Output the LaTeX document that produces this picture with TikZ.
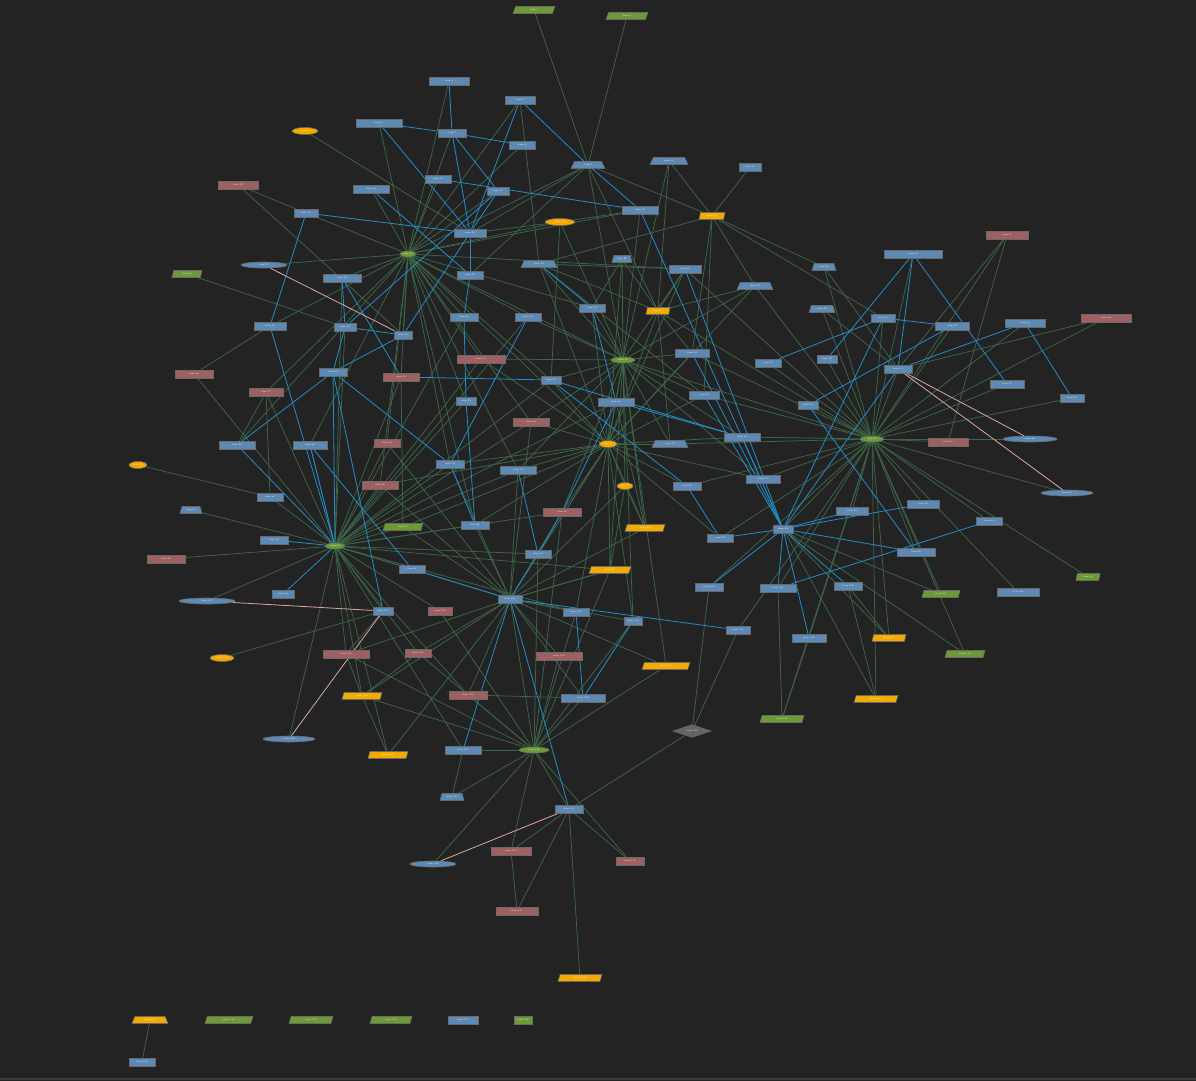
\documentclass[tikz,border=0pt]{standalone}
\usetikzlibrary{shapes.geometric}
\pgfdeclarelayer{bgl}
\pgfdeclarelayer{edges}
\pgfsetlayers{bgl,edges,main}
\definecolor{bgc}{RGB}{35,35,35}
\definecolor{cline}{RGB}{60,60,60}
\definecolor{cblue}{RGB}{92,138,180}
\definecolor{cred}{RGB}{158,96,96}
\definecolor{cgreen}{RGB}{108,154,52}
\definecolor{corange}{RGB}{245,170,0}
\definecolor{cgray}{RGB}{100,100,100}
\definecolor{cborder}{RGB}{105,105,105}
\definecolor{egreen}{RGB}{60,102,72}
\definecolor{eblue}{RGB}{36,140,200}
\definecolor{epink}{RGB}{222,165,165}
\tikzset{
  nbase/.style={draw=cborder,line width=0.6pt,inner sep=0pt,text=white,
    font=\fontsize{2.2}{2.4}\selectfont},
  bx/.style={nbase,rectangle,fill=cblue,minimum height=8pt},
  rx/.style={nbase,rectangle,fill=cred,minimum height=8pt},
  gr/.style={nbase,rectangle,fill=cgreen,minimum height=8pt},
  gp/.style={nbase,trapezium,trapezium stretches=true,trapezium left angle=68,trapezium right angle=112,fill=cgreen,minimum height=7pt},
  op/.style={nbase,trapezium,trapezium stretches=true,trapezium left angle=68,trapezium right angle=112,fill=corange,minimum height=7pt},
  bt/.style={nbase,trapezium,trapezium stretches=true,trapezium left angle=55,trapezium right angle=55,fill=cblue,minimum height=7pt},
  ot/.style={nbase,trapezium,trapezium stretches=true,trapezium left angle=55,trapezium right angle=55,fill=corange,minimum height=7pt},
  oe/.style={nbase,ellipse,fill=corange,minimum height=7pt},
  ge/.style={nbase,ellipse,fill=cgreen,minimum height=6pt},
  be/.style={nbase,ellipse,fill=cblue,minimum height=6pt},
  gd/.style={nbase,diamond,fill=cgray,minimum height=11pt},
  gedge/.style={draw=egreen,line width=0.75pt},
  bedge/.style={draw=eblue,line width=0.8pt},
  pedge/.style={draw=epink,line width=0.8pt},
}
\newcommand\nd[5]{\node[#2,minimum width=#5pt] (n#1) at (#3,#4) {item #1};}
\begin{document}
\begin{tikzpicture}[x=1pt,y=-1pt]
\useasboundingbox (0,0) rectangle (1196,1080);
\begin{pgfonlayer}{bgl}
\fill[bgc] (-3,-3) rectangle (1199,1083);
\draw[cline,line width=2pt] (-3,1078.5) -- (1199,1078.5);
\end{pgfonlayer}
\nd{1}{gp}{534}{10}{42}
\nd{2}{gp}{627}{16}{42}
\nd{3}{bx}{449}{81}{40}
\nd{4}{bx}{520}{100}{30}
\nd{5}{bx}{379}{123}{46}
\nd{6}{oe}{305}{131}{26}
\nd{7}{bx}{452}{133}{28}
\nd{8}{bx}{522}{145}{26}
\nd{9}{bt}{588}{165}{34}
\nd{10}{bt}{669}{161}{38}
\nd{11}{bx}{750}{167}{22}
\nd{12}{rx}{238}{185}{40}
\nd{13}{bx}{371}{189}{36}
\nd{14}{bx}{438}{179}{26}
\nd{15}{bx}{498}{191}{22}
\nd{16}{bx}{640}{210}{36}
\nd{17}{op}{712}{216}{26}
\nd{18}{oe}{560}{222}{30}
\nd{19}{bx}{306}{213}{24}
\nd{20}{bx}{470}{233}{32}
\nd{21}{ge}{408}{254}{16}
\nd{22}{be}{264}{265}{46}
\nd{23}{gp}{187}{274}{30}
\nd{24}{bx}{342}{278}{38}
\nd{25}{bx}{470}{275}{26}
\nd{26}{bt}{539}{264}{36}
\nd{27}{bt}{622}{259}{20}
\nd{28}{bx}{685}{269}{32}
\nd{29}{bt}{824}{267}{24}
\nd{30}{bx}{913}{254}{58}
\nd{31}{rx}{1007}{235}{42}
\nd{32}{bt}{755}{286}{36}
\nd{33}{bt}{822}{309}{26}
\nd{34}{bx}{592}{308}{26}
\nd{35}{op}{658}{311}{24}
\nd{36}{bx}{464}{317}{28}
\nd{37}{bx}{528}{317}{26}
\nd{38}{bx}{270}{326}{32}
\nd{39}{bx}{345}{327}{22}
\nd{40}{bx}{403}{335}{18}
\nd{41}{bx}{883}{318}{24}
\nd{42}{bx}{952}{326}{34}
\nd{43}{bx}{1025}{323}{40}
\nd{44}{rx}{1106}{318}{50}
\nd{45}{bx}{692}{353}{34}
\nd{46}{ge}{623}{360}{24}
\nd{47}{rx}{481}{359}{48}
\nd{48}{rx}{194}{374}{38}
\nd{49}{bx}{333}{372}{28}
\nd{50}{rx}{401}{377}{36}
\nd{51}{bx}{768}{363}{26}
\nd{52}{bx}{827}{359}{20}
\nd{53}{bx}{898}{369}{28}
\nd{54}{bx}{551}{380}{20}
\nd{55}{bx}{1007}{384}{34}
\nd{56}{bx}{1072}{398}{24}
\nd{57}{rx}{266}{392}{34}
\nd{58}{bx}{704}{395}{30}
\nd{59}{bx}{466}{401}{20}
\nd{60}{bx}{616}{402}{36}
\nd{61}{bx}{808}{405}{20}
\nd{62}{rx}{531}{422}{36}
\nd{63}{bx}{742}{437}{36}
\nd{64}{ge}{872}{439}{24}
\nd{65}{rx}{948}{442}{40}
\nd{66}{be}{1030}{439}{54}
\nd{67}{bx}{237}{445}{36}
\nd{68}{bx}{310}{445}{34}
\nd{69}{rx}{387}{443}{26}
\nd{70}{oe}{608}{444}{18}
\nd{71}{bt}{670}{444}{36}
\nd{72}{bx}{450}{464}{28}
\nd{73}{bx}{518}{470}{36}
\nd{74}{oe}{138}{465}{18}
\nd{75}{bx}{763}{479}{34}
\nd{76}{rx}{380}{485}{36}
\nd{77}{oe}{625}{486}{16}
\nd{78}{bx}{687}{486}{28}
\nd{79}{be}{1067}{493}{52}
\nd{80}{bx}{270}{497}{26}
\nd{81}{bt}{191}{510}{22}
\nd{82}{bx}{923}{504}{32}
\nd{83}{bx}{852}{511}{32}
\nd{84}{bx}{989}{521}{26}
\nd{85}{gp}{403}{527}{40}
\nd{86}{bx}{475}{525}{28}
\nd{87}{rx}{562}{512}{38}
\nd{88}{op}{645}{528}{40}
\nd{89}{bx}{783}{529}{20}
\nd{90}{bx}{274}{540}{28}
\nd{91}{ge}{335}{546}{20}
\nd{92}{bx}{720}{538}{26}
\nd{93}{bx}{538}{554}{26}
\nd{94}{rx}{166}{559}{38}
\nd{95}{bx}{916}{552}{38}
\nd{96}{bx}{412}{569}{26}
\nd{97}{op}{610}{570}{42}
\nd{98}{gp}{1088}{577}{24}
\nd{99}{bx}{283}{594}{22}
\nd{100}{bx}{709}{587}{28}
\nd{101}{bx}{778}{588}{36}
\nd{102}{bx}{848}{586}{28}
\nd{103}{gp}{941}{594}{38}
\nd{104}{bx}{1018}{592}{42}
\nd{105}{be}{207}{601}{56}
\nd{106}{bx}{510}{599}{24}
\nd{107}{bx}{383}{611}{20}
\nd{108}{rx}{440}{611}{24}
\nd{109}{bx}{576}{612}{26}
\nd{110}{bx}{633}{621}{18}
\nd{111}{bx}{738}{630}{24}
\nd{112}{oe}{222}{658}{24}
\nd{113}{rx}{346}{654}{46}
\nd{114}{rx}{418}{653}{26}
\nd{115}{rx}{559}{656}{46}
\nd{116}{bx}{809}{638}{34}
\nd{117}{op}{889}{638}{34}
\nd{118}{op}{666}{666}{48}
\nd{119}{gp}{965}{654}{40}
\nd{120}{op}{362}{696}{40}
\nd{121}{rx}{468}{695}{38}
\nd{122}{bx}{583}{698}{44}
\nd{123}{op}{876}{699}{44}
\nd{124}{gp}{782}{719}{44}
\nd{125}{gd}{692}{731}{38}
\nd{126}{be}{289}{739}{52}
\nd{127}{op}{388}{755}{40}
\nd{128}{bx}{463}{750}{36}
\nd{129}{ge}{534}{750}{30}
\nd{130}{bt}{452}{797}{24}
\nd{131}{bx}{569}{809}{28}
\nd{132}{be}{433}{864}{46}
\nd{133}{rx}{511}{851}{40}
\nd{134}{rx}{630}{861}{28}
\nd{135}{rx}{517}{911}{42}
\nd{136}{op}{580}{978}{44}
\nd{137}{ot}{150}{1020}{36}
\nd{138}{gp}{229}{1020}{48}
\nd{139}{gp}{311}{1020}{44}
\nd{140}{gp}{391}{1020}{42}
\nd{141}{bx}{463}{1020}{30}
\nd{142}{gr}{523}{1020}{18}
\nd{143}{bx}{142}{1062}{26}
\begin{pgfonlayer}{edges}
\foreach \a/\b in {1/9,2/9,3/21,4/21,4/26,5/21,7/21,13/21,14/21,15/21,12/19,12/40,6/20,9/17,9/35,9/21,9/20,9/25,9/46,10/46,10/17,10/35,11/17,17/26,17/29,17/32,17/41,17/45,17/58,18/54,18/20,18/21,18/16,19/21,22/21,23/39,24/21,26/46,26/35,26/58,27/46,27/34,27/35,28/35,28/26,29/64,29/53,30/64,31/64,31/53,31/65,32/64,32/46,32/35,33/64,33/53,34/46,35/45,35/70,36/21,37/21,37/46,38/21,38/48,40/21,41/64,42/64,43/64,44/64,44/53,45/46,45/64,47/21,47/46,47/70,48/91,50/21,51/64,52/64,53/64,55/64,56/64,57/91,57/80,57/67,58/64,58/46,60/46,60/70,61/64,62/70,62/91,62/21,63/64,63/46,65/64,66/64,68/91,69/91,69/21,70/46,70/54,70/73,70/72,70/86,70/87,70/76,70/85,70/71,70/32,70/26,70/77,71/46,71/35,72/91,72/21,73/91,73/21,74/80,75/64,75/46,76/91,76/21,77/97,77/88,77/106,78/64,78/70,79/64,80/91,81/91,82/64,83/64,84/64,85/91,85/50,85/106,86/91,86/106,88/106,88/46,89/64,93/91,93/70,94/91,95/64,96/91,97/129,97/106,98/64,100/125,101/124,102/117,102/123,103/89,103/64,104/64,105/91,106/91,106/129,107/91,108/129,108/91,109/106,111/125,112/107,113/91,113/107,113/120,114/106,115/106,115/129,116/124,116/64,117/89,118/106,118/129,118/46,119/89,119/64,120/91,120/127,120/114,121/129,121/122,121/106,122/129,123/89,125/131,126/91,127/106,128/129,128/130,129/130,129/131,129/132,129/133,129/134,131/133,131/134,131/135,131/136,133/135,137/143,69/106,59/91,47/91,87/106,67/21,24/91,39/91,50/91,92/64,60/88,54/46,62/106,73/106,21/8,21/16,21/34,21/54,21/59,21/86,21/68,21/57,21/46,21/70,21/28,91/54,91/36,91/37,91/60,91/87,91/97,91/109,91/114,91/121,91/127,91/128,70/60,70/45,70/58,70/63,70/75,70/88,70/92,70/97,70/109,70/110,70/106,70/28,70/27,70/34,64/35,64/46,64/71,64/100,64/101,64/111,64/117,64/123,64/124,64/28,46/16,46/18,46/28,46/62,46/73,46/77,46/87,46/97,46/110,106/72,106/76,106/97,106/110,106/113,106/120,106/122,129/109,129/110,129/113,129/114,129/120,129/93,129/87}
  \draw[gedge] (n\a) -- (n\b);
\foreach \a/\b in {3/7,5/7,7/8,7/20,5/20,4/20,4/9,9/16,7/15,14/16,19/20,19/38,38/91,68/91,13/25,24/50,24/39,39/15,39/40,39/49,40/20,40/49,49/67,49/107,49/72,50/54,54/63,54/78,78/92,60/63,34/60,26/34,16/89,28/89,45/89,58/89,63/89,73/93,93/106,87/60,93/87,72/86,59/86,36/59,25/36,20/25,72/37,68/96,96/106,67/91,90/91,99/91,49/91,106/111,106/128,106/131,109/122,110/122,30/52,30/53,30/55,41/42,41/51,41/89,43/53,43/56,53/89,42/61,61/95,89/95,89/83,89/82,84/101,89/92,89/100,89/101,89/102,89/116,15/20}
  \draw[bedge] (n\a) -- (n\b);
\foreach \a/\b in {22/40,53/66,53/79,105/107,107/126,131/132}
  \draw[pedge] (n\a) -- (n\b);
\end{pgfonlayer}
\end{tikzpicture}
\end{document}
